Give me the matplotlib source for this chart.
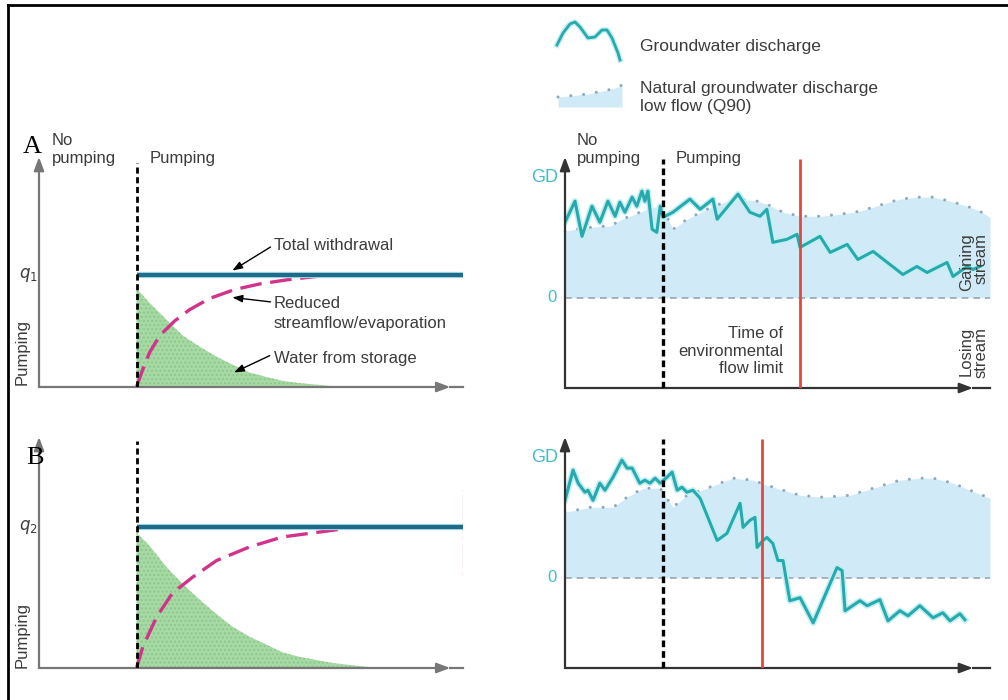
import matplotlib
matplotlib.use("Agg")
import matplotlib.pyplot as plt
import matplotlib.patheffects as pe
from matplotlib.lines import Line2D

plt.rcParams['font.family'] = ['Liberation Sans', 'DejaVu Sans']

W, H = 1008, 700

# time runs 0-100 on every panel, pumping starts at the same time
pump_start = 23

# ---- left panels: pumping, in units of q1 ----
q1 = 1.0
q2 = 1.26

storage_a_t = [23, 26.1, 30.1, 33.9, 37.9, 41.9, 45.6, 49.6, 53.6, 57.4, 61.4, 68.5, 75.5]
storage_a = [0.88, 0.75, 0.60, 0.46, 0.36, 0.27, 0.20, 0.13, 0.09, 0.055, 0.035, 0.01, 0.0]
reduced_a_t = [23, 24.5, 26.1, 28.5, 32, 35.5, 40.2, 46.1, 52, 59, 66.1]
reduced_a = [0.0, 0.16, 0.31, 0.46, 0.59, 0.69, 0.79, 0.87, 0.92, 0.96, 0.99]

storage_b_t = [23, 26.1, 30.1, 33.9, 37.9, 41.9, 45.6, 49.6, 53.6, 57.4, 61.4, 69.2, 77.2, 85]
storage_b = [1.21, 1.09, 0.90, 0.75, 0.61, 0.48, 0.37, 0.28, 0.21, 0.14, 0.10, 0.045, 0.01, 0.0]
reduced_b_t = [23, 24.5, 27.8, 31.5, 36.2, 41.9, 49.6, 57.4, 65.4, 73.2]
reduced_b = [0.0, 0.19, 0.46, 0.67, 0.81, 0.96, 1.08, 1.17, 1.21, 1.25]

# ---- right panels: groundwater discharge (GD) and natural low flow (Q90) ----
limit_a = 55.3
limit_b = 46.4

q90_a_t = [0, 2.4, 8.2, 10.6, 13.4, 20.7, 22.8, 25.4, 28.7, 33.4, 38.1, 41.2, 45.2, 47.5,
           51.3, 55.3, 60.0, 64.7, 69.4, 74.8, 78.8, 82.8, 86.6, 90.6, 94.6, 97.6, 100]
q90_a = [0.66, 0.68, 0.71, 0.71, 0.78, 0.90, 0.91, 0.68, 0.78, 0.88, 0.96, 0.98, 0.96, 0.93,
         0.85, 0.81, 0.81, 0.83, 0.86, 0.93, 0.98, 1.00, 1.00, 0.96, 0.91, 0.86, 0.80]

gd_a_t = [0, 2.35, 4.0, 6.35, 8.2, 10.1, 11.8, 12.9, 14.1, 15.8, 16.9, 18.1, 18.8, 19.5, 20.5,
          21.6, 22.4, 23.1, 25.4, 29.4, 31.8, 34.8, 35.8, 40.7, 43.5, 45.9, 47.5, 48.9, 52.2,
          54.6, 55.3, 60.0, 62.4, 66.4, 68.9, 72.5, 79.5, 82.8, 85.2, 89.9, 91.3, 94.6, 96.0, 97.6]
gd_a = [0.75, 0.96, 0.61, 0.91, 0.75, 0.96, 0.81, 0.95, 0.85, 1.00, 0.91, 1.06, 0.96, 1.06, 0.68,
        0.65, 0.91, 0.80, 0.85, 0.98, 0.88, 0.98, 0.78, 1.03, 0.85, 0.81, 0.88, 0.55, 0.58,
        0.63, 0.50, 0.61, 0.45, 0.53, 0.38, 0.46, 0.23, 0.31, 0.25, 0.35, 0.21, 0.31, 0.28, 0.31]

q90_b_t = [0, 5.9, 11.3, 14.6, 18.4, 22.4, 25.4, 28.7, 33.4, 39.5, 44.2, 47.5, 51.3, 55.3,
           60.7, 67.1, 72.5, 78.8, 83.5, 86.6, 91.3, 95.3, 100]
q90_b = [0.65, 0.70, 0.70, 0.80, 0.89, 0.89, 0.70, 0.82, 0.89, 0.99, 0.97, 0.92, 0.87, 0.82,
         0.80, 0.82, 0.89, 0.97, 0.99, 0.99, 0.94, 0.87, 0.79]

gd_b_t = [0, 1.9, 3.1, 4.7, 5.4, 6.6, 8.2, 9.4, 11.3, 13.4, 14.6, 15.8, 17.6, 18.8, 20.0, 21.2,
          22.4, 24.0, 25.2, 26.4, 27.5, 28.7, 30.1, 31.8, 35.8, 38.1, 41.2, 41.9, 43.5, 44.7,
          45.2, 46.6, 47.5, 48.9, 50.1, 51.3, 52.9, 55.3, 58.4, 64.0, 65.2, 65.9, 69.4, 71.1,
          74.1, 76.0, 78.8, 80.7, 83.5, 86.6, 88.9, 90.6, 92.9, 94.1]
gd_b = [0.77, 1.07, 0.94, 0.85, 0.87, 0.77, 0.94, 0.87, 1.00, 1.17, 1.09, 1.09, 0.94, 0.97, 0.94, 0.99,
        0.94, 1.00, 1.05, 0.87, 0.90, 0.85, 0.87, 0.79, 0.37, 0.44, 0.74, 0.50, 0.57, 0.60,
        0.30, 0.37, 0.40, 0.34, 0.17, 0.17, -0.23, -0.20, -0.45, 0.10, 0.07, -0.33, -0.23, -0.28,
        -0.22, -0.43, -0.33, -0.38, -0.28, -0.40, -0.35, -0.43, -0.36, -0.42]

# legend glyphs
legend_wave_x = [7, 13, 20, 25, 30, 38, 45, 52, 57, 62, 68, 70]
legend_wave_y = [35, 23, 14, 12, 17, 28, 27, 20, 20, 28, 43, 50]
legend_q90_x = [8, 18, 28, 38, 48, 58, 68, 72]
legend_q90_y = [87, 86, 85, 84, 82, 80, 77, 75]

TXT = '#3c3c3c'
CYAN = '#27a9ad'
GD_LABEL = '#45bcc4'

fig = plt.figure(figsize=(W / 100, H / 100), dpi=100)


def px_axes(x0, y0, x1, y1):
    ax = fig.add_axes([x0 / W, 1 - y1 / H, (x1 - x0) / W, (y1 - y0) / H])
    ax.axis('off')
    return ax


def ftext(x, y, s, **kw):
    kw.setdefault('color', TXT)
    kw.setdefault('fontsize', 12)
    fig.text(x / W, 1 - y / H, s, **kw)


def arrow_axes(ax, color, tip):
    kw = dict(arrowstyle='-|>,head_length=0.8,head_width=0.3', color=color, lw=1.6,
              shrinkA=0, shrinkB=0)
    ax.annotate('', xy=(0, 1), xytext=(0, 0), xycoords='axes fraction', arrowprops=kw)
    ax.annotate('', xy=(tip, 0), xytext=(0, 0), xycoords='axes fraction', arrowprops=kw)
    ax.plot([tip, 1], [0, 0], transform=ax.transAxes, color=color, lw=1.6, clip_on=False)


def pumping_panel(ax, q, st_t, st, rd_t, rd, top, vtop):
    ax.set_xlim(0, 100)
    ax.set_ylim(0, top)
    ax.fill_between(st_t, 0, st, facecolor='#a7d9a4', edgecolor='#8cc88c', hatch='....', lw=0)
    ax.plot(rd_t, rd, color='#d2338a', lw=2.4, dashes=(6.5, 2.6), zorder=3)
    ax.hlines(q, pump_start, 100, color='#1f6c8a', lw=3, zorder=4,
              path_effects=[pe.Stroke(linewidth=4.5, foreground='#a9dbe8'), pe.Normal()])
    ax.vlines(pump_start, 0, vtop, color='k', lw=2, linestyles=(0, (2.2, 1.3)), zorder=5)
    arrow_axes(ax, '#777777', 0.97)


def discharge_panel(ax, q90_t, q90, gd_t, gd, limit):
    ax.set_xlim(0, 100)
    ax.set_ylim(-0.9, 1.4)
    ax.fill_between(q90_t, 0, q90, color='#d0eaf7', lw=0)
    ax.plot(q90_t, q90, color='#8fa9bb', lw=2.2, linestyle=(0, (0.01, 4.2)),
            dash_capstyle='round', zorder=2)
    ax.hlines(0, 0, 100, color='#9aa5ad', lw=1.2, linestyles=(0, (4, 3)), zorder=2)
    ax.plot(gd_t, gd, color=CYAN, lw=2.2, zorder=3,
            path_effects=[pe.Stroke(linewidth=4.5, foreground='#c2f0f2'), pe.Normal()])
    ax.vlines(pump_start, -0.9, 1.38, color='k', lw=2.4, linestyles=(0, (2, 1.2)), zorder=5)
    ax.vlines(limit, -0.9, 1.38, color='#e8463c', lw=2, zorder=5)
    arrow_axes(ax, '#333333', 0.96)


# panel A
ax_pa = px_axes(39, 157, 463, 387)
pumping_panel(ax_pa, q1, storage_a_t, storage_a, reduced_a_t, reduced_a, 2.054, 2.0)
ax_da = px_axes(565, 157, 990, 388)
discharge_panel(ax_da, q90_a_t, q90_a, gd_a_t, gd_a, limit_a)

# panel B
ax_pb = px_axes(39, 437, 463, 668)
pumping_panel(ax_pb, q2, storage_b_t, storage_b, reduced_b_t, reduced_b, 2.0625, 2.03)
ax_pb.vlines(100, 0.83, 1.59, color='#eaa5b5', lw=1, linestyles=(0, (3, 2)))
ax_db = px_axes(565, 437, 990, 668)
discharge_panel(ax_db, q90_b_t, q90_b, gd_b_t, gd_b, limit_b)

# annotations on panel A
akw = dict(arrowstyle='-|>,head_length=0.6,head_width=0.22', color='k', lw=1, shrinkA=0, shrinkB=0)
ax_pa.annotate('', xy=(45.6, 1.04), xytext=(54.6, 1.25), arrowprops=akw)
ax_pa.annotate('', xy=(45.6, 0.80), xytext=(54.6, 0.76), arrowprops=akw)
ax_pa.annotate('', xy=(46.0, 0.13), xytext=(54.4, 0.28), arrowprops=akw)
ftext(274, 245, 'Total withdrawal', va='center')
ftext(274, 328, 'Reduced\nstreamflow/evaporation', va='baseline', linespacing=1.4)
ftext(274, 358, 'Water from storage', va='center')

# panel texts (multi-line: y is the baseline of the last line)
ftext(32, 147, 'A', family='Liberation Serif', fontsize=19, color='k', ha='center', va='center')
ftext(35, 458, 'B', family='Liberation Serif', fontsize=19, color='k', ha='center', va='center')
for x in (52, 577):
    ftext(x, 163, 'No\npumping', va='baseline', linespacing=1.22)
ftext(150, 163, 'Pumping', va='baseline')
ftext(676, 163, 'Pumping', va='baseline')
ftext(28, 275, r'$q_1$', ha='center', va='center', fontsize=12)
ftext(28, 527, r'$q_2$', ha='center', va='center', fontsize=12)
ftext(22, 352, 'Pumping', rotation=90, ha='center', va='center')
ftext(22, 635, 'Pumping', rotation=90, ha='center', va='center')

for y_gd, y_zero in ((177, 298), (457, 577)):
    ftext(558, y_gd, 'GD', ha='right', va='center', color=GD_LABEL, fontsize=13)
    ftext(557, y_zero, '0', ha='right', va='center', color=GD_LABEL, fontsize=12)

ftext(783, 373, 'Time of\nenvironmental\nflow limit', ha='right', va='baseline',
      multialignment='right', linespacing=1.2)
ftext(989, 291, 'Gaining\nstream', rotation=90, ha='right', va='bottom', linespacing=1.0)
ftext(989, 378, 'Losing\nstream', rotation=90, ha='right', va='bottom', linespacing=1.0)

# legend
ax_leg = px_axes(550, 10, 630, 115)
ax_leg.set_xlim(0, 80)
ax_leg.set_ylim(105, 0)
ax_leg.plot(legend_wave_x, legend_wave_y, color=CYAN, lw=2.0,
            path_effects=[pe.Stroke(linewidth=4.0, foreground='#c2f0f2'), pe.Normal()])
ax_leg.fill_between(legend_q90_x, 97, legend_q90_y, color='#d0eaf7', lw=0)
ax_leg.plot(legend_q90_x, legend_q90_y, color='#8fa9bb', lw=2.2, linestyle=(0, (0.01, 4.2)),
            dash_capstyle='round')
ftext(640, 46, 'Groundwater discharge', va='center', fontsize=12.5)
ftext(640, 111, 'Natural groundwater discharge\nlow flow (Q90)', va='baseline',
      fontsize=12.5, linespacing=1.25)

# frame lines of the original figure
fig.add_artist(Line2D([8 / W, 1], [1 - 5 / H, 1 - 5 / H], color='k', lw=2))
fig.add_artist(Line2D([8 / W, 8 / W], [0, 1 - 5 / H], color='k', lw=2))

fig.savefig('out.png', dpi=100)
